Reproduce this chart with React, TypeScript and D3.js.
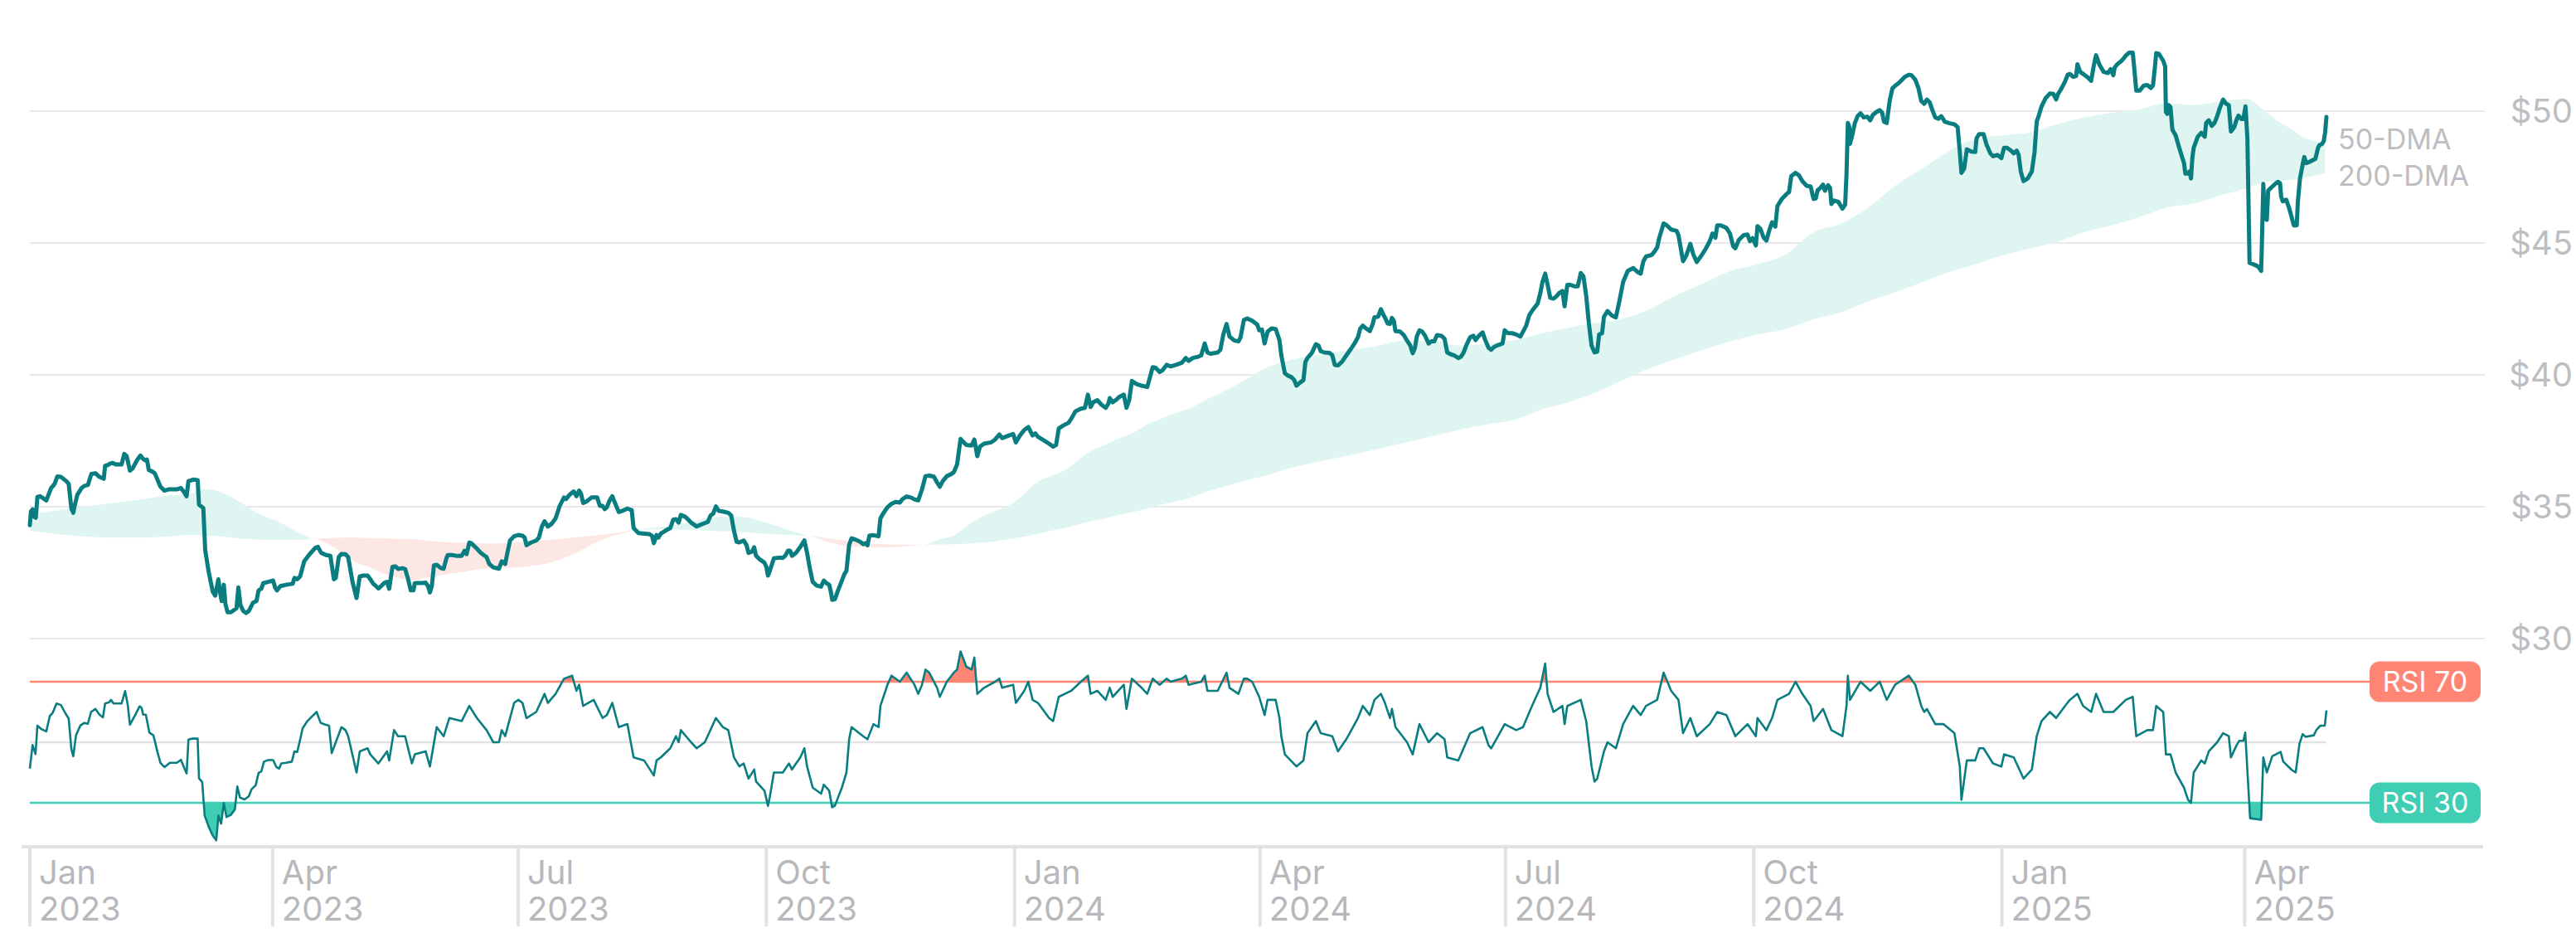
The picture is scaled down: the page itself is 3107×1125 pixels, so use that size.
import React from "react";
import * as d3 from "d3";

const W = 3107;
const H = 1125;

// day offsets since 2023-01-01 and closing prices
const priceDays = [
  0,0.4,1.0,1.7,2.2,2.8,3.8,6.1,7.9,8.6,9.2,10.2,11.5,13.5,14.4,15.4,16.1,16.6,17.6,19.2,20.2,21.5,22.8,24.3,25.8,27.4,27.9,28.9,29.7,30.7,32.0,34.0,35.0,35.9,37.1,38.1,39.7,41.0,42.0,42.8,43.4,44.1,45.3,46.3,48.4,49.9,51.4,54.5,56.0,57.1,58.1,58.8,60.7,62.2,62.7,64.3,65.0,66.3,67.8,68.7,69.9,70.4,71.1,71.9,72.5,73.3,74.5,76.6,77.3,78.1,79.1,80.1,81.2,82.7,84.0,84.8,85.8,86.5,88.3,90.2,90.9,91.6,92.9,95.0,97.4,98.1,99.1,100.2,101.7,103.7,105.8,106.8,108.0,109.8,111.4,112.7,113.4,114.5,115.5,117.0,118.0,119.6,121.1,121.6,122.3,123.7,125.2,126.2,127.3,128.3,129.2,130.4,131.4,132.4,133.2,134.4,135.5,136.5,138.1,139.1,140.1,141.2,142.2,142.7,143.7,145.7,
  146.7,147.6,148.3,149.0,149.8,150.8,152.4,153.4,154.4,154.9,156.5,158.0,160.1,161.1,161.9,162.9,163.6,165.7,167.2,169.3,170.3,171.8,173.9,174.9,176.2,177.0,178.0,179.5,181.1,182.6,183.4,184.1,185.7,187.7,188.7,189.8,190.8,192.0,193.4,194.9,196.4,198.0,198.8,200.0,201.6,202.6,203.6,204.3,205.1,206.2,208.2,210.3,211.3,212.3,213.1,213.9,214.9,215.9,216.9,218.3,219.5,221.5,223.1,223.8,225.6,227.7,229.7,230.6,231.3,232.3,233.0,233.9,235.9,237.4,238.5,239.5,240.5,241.3,243.1,245.1,247.2,248.7,250.2,251.3,252.3,253.3,254.3,255.4,256.9,258.9,260.0,261.0,262.0,263.0,264.6,265.6,266.4,267.7,268.5,269.2,270.7,272.3,273.0,273.6,274.3,275.8,277.9,279.1,280.0,281.0,281.8,282.5,284.0,285.6,287.1,
  288.1,289.2,290.2,291.7,293.3,294.3,295.3,296.3,296.9,297.4,298.4,299.4,301.0,302.0,302.7,303.7,304.6,306.1,307.8,308.9,309.7,310.5,311.2,312.7,314.6,315.3,316.3,317.9,319.4,320.9,322.5,323.5,325.0,326.6,327.9,329.3,330.7,332.0,333.4,335.1,336.3,337.3,338.4,339.9,341.4,342.5,343.7,345.0,345.7,347.1,349.1,350.1,351.2,352.2,353.7,356.3,357.8,359.4,360.4,362.9,364.5,365.5,367.0,368.6,370.1,371.7,372.7,373.7,376.3,377.8,379.3,380.4,381.4,382.9,385.0,386.0,387.6,389.6,391.1,392.2,393.2,394.2,395.7,397.3,398.8,399.8,400.3,401.4,402.9,403.9,405.5,406.5,407.5,408.5,410.1,412.1,414.2,415.2,416.2,417.3,418.8,419.8,421.4,422.9,424.9,427.0,428.5,
  429.5,431.1,433.1,434.2,435.5,436.5,437.7,440.3,441.3,442.4,443.6,444.7,446.5,448.0,448.8,450.0,451.3,453.1,455.0,455.7,456.7,457.7,458.8,460.3,461.8,463.2,463.9,465.2,466.2,467.7,468.7,469.5,471.0,472.1,472.8,473.6,475.2,476.7,477.7,478.5,479.8,481.8,482.8,483.7,484.9,486.4,488.0,490.0,491.2,492.3,493.1,494.1,495.3,496.7,497.7,498.4,499.8,500.8,501.8,502.3,503.3,504.2,504.9,505.6,506.2,507.9,509.3,510.5,511.7,512.6,513.4,514.1,515.1,516.1,517.2,518.5,519.5,520.6,521.6,523.3,524.4,525.4,526.9,527.9,529.5,530.5,531.5,532.5,533.9,535.1,535.9,537.1,538.5,539.4,540.7,541.7,542.8,544.3,545.9,546.7,547.9,549.4,551.0,552.5,553.5,554.6,555.8,556.8,557.6,558.9,559.9,560.7,561.7,562.6,563.6,564.8,565.8,566.9,568.1,568.9,569.9,
  570.8,572.5,573.8,574.9,575.9,576.9,577.9,578.9,580.0,581.0,581.7,582.8,583.5,584.8,586.3,587.9,589.2,590.6,592.3,594.3,596.1,597.1,598.1,599.1,601.2,602.2,603.2,604.0,605.6,606.8,608.4,610.4,611.1,612.8,614.0,615.5,616.6,617.9,619.6,621.2,622.7,623.7,624.8,625.5,626.8,628.9,630.2,631.4,632.2,633.5,635.3,636.7,637.6,638.6,639.8,640.4,641.5,642.7,643.7,644.8,645.8,647.0,647.8,649.4,651.4,652.1,652.9,654.5,655.8,657.0,658.6,660.1,661.2,662.0,662.7,663.7,664.7,665.4,666.6,667.3,667.8,668.8,670.4,671.9,672.9,673.4,673.9,674.4,674.7,675.5,676.5,677.5,678.6,679.8,681.1,682.2,683.2,684.5,685.7,686.6,687.3,688.3,689.4,690.4,691.4,692.8,693.8,695.0,696.5,697.5,698.9,700.1,701.1,702.2,703.2,704.2,705.3,706.3,707.5,708.5,709.3,709.8,711.3,
  713.4,714.6,715.4,716.0,717.0,718.0,719.6,721.1,721.6,722.6,724.2,725.2,726.7,727.7,729.3,730.8,731.8,732.9,734.4,735.4,736.5,737.2,738.0,739.0,740.6,742.1,743.1,743.9,744.6,745.7,747.2,748.8,750.1,751.1,751.8,752.8,754.4,755.4,756.2,757.4,758.5,759.0,760.0,761.1,762.6,764.1,765.1,765.9,767.2,768.7,770.3,771.3,772.3,772.8,773.8,775.4,776.9,778.2,779.5,780.0,780.8,782.1,783.6,784.9,786.2,787.0,787.7,788.2,789.2,790.8,791.5,791.8,792.3,792.8,793.5,794.2,795.4,796.9,798.5,799.0,800.0,800.5,801.1,801.6,802.1,803.6,804.9,806.2,806.7,807.7,808.8,809.8,810.8,811.8,813.0,814.1,815.1,815.9,817.1,817.9,818.7,819.8,820.5,821.3,822.0,822.8,824.0,825.6,826.3,827.1,827.3,827.9,828.4,829.2,829.7,830.7,832.3,833.3,834.1,834.5,835.1,836.4,837.4,838.4,839.2,840.3,840.7,841.5,842.6,843.1,843.8,845.1,847.2,848.2,848.7,849.7,850.3,850.8,851.3
];
const priceValues = [
  34.30,34.82,34.90,34.61,34.58,35.37,35.40,35.24,35.71,35.79,35.87,36.15,36.13,35.97,35.87,34.93,34.77,35.03,35.45,35.71,35.79,35.82,36.24,36.27,36.13,36.06,36.55,36.58,36.63,36.66,36.60,36.60,37.00,36.92,36.37,36.45,36.76,36.94,36.81,36.76,36.79,36.39,36.34,36.27,35.76,35.61,35.66,35.66,35.71,35.56,35.40,35.97,36.03,36.01,35.08,34.95,33.36,32.52,31.78,31.63,32.25,31.83,31.42,32.04,31.31,31.00,31.00,31.15,31.94,31.26,31.05,30.97,31.05,31.36,31.42,31.83,31.89,32.10,32.15,32.20,31.94,31.83,31.99,32.04,32.08,32.30,32.25,32.36,32.93,33.20,33.44,33.48,33.25,33.17,33.14,32.25,32.30,33.09,33.21,33.20,33.09,32.15,31.54,31.89,32.36,32.39,32.39,32.25,32.08,31.99,31.90,32.01,32.11,32.15,31.89,32.72,32.74,32.64,32.67,32.64,32.30,31.83,31.83,32.10,32.11,32.11,
  32.12,31.99,31.75,31.99,32.78,32.80,32.67,32.65,33.04,33.17,33.17,33.14,33.14,33.33,33.20,33.64,33.62,33.41,33.25,33.09,32.83,32.70,32.65,32.93,32.83,33.25,33.72,33.88,33.93,33.90,33.83,33.54,33.64,33.72,33.83,34.25,34.45,34.25,34.35,34.56,35.03,35.35,35.29,35.45,35.58,35.40,35.61,35.50,35.14,35.19,35.35,35.35,35.03,35.03,34.91,34.98,35.24,35.40,35.14,34.80,34.84,34.93,34.87,34.19,34.00,33.98,33.96,33.90,33.62,33.93,33.83,33.98,34.11,34.19,34.51,34.53,34.40,34.69,34.61,34.40,34.25,34.32,34.38,34.42,34.66,34.74,35.01,34.84,34.82,34.77,34.66,34.09,33.67,33.65,33.72,33.56,33.25,33.30,33.46,33.14,32.99,32.88,32.72,32.39,32.57,33.04,33.07,33.06,33.14,33.33,33.33,33.14,33.25,33.48,33.72,
  33.25,32.62,32.15,32.01,31.97,32.20,32.10,32.04,31.78,31.47,31.49,31.78,32.20,32.46,32.57,33.56,33.80,33.75,33.67,33.58,33.62,33.54,33.90,33.92,33.88,34.56,34.74,34.98,35.11,35.18,35.16,35.29,35.39,35.35,35.28,35.24,35.66,36.16,36.18,36.14,35.92,35.76,35.97,36.16,36.23,36.31,36.60,37.57,37.49,37.34,37.32,37.55,36.92,37.28,37.39,37.44,37.55,37.74,37.60,37.70,37.76,37.44,37.70,37.91,38.02,37.70,37.78,37.65,37.49,37.39,37.28,37.34,37.97,38.07,38.18,38.33,38.62,38.72,38.75,39.25,38.78,38.96,39.04,38.86,38.75,38.91,39.12,38.96,39.07,39.17,39.25,38.75,39.04,39.77,39.66,39.59,39.54,39.91,40.29,40.27,40.11,40.17,40.38,40.32,40.38,40.46,40.64,
  40.53,40.64,40.69,40.74,41.19,40.85,40.80,40.85,40.95,41.53,41.93,41.45,41.30,41.27,41.43,42.08,42.14,42.05,41.90,41.69,41.72,41.19,41.64,41.76,41.74,41.32,40.74,40.06,39.98,39.91,39.80,39.59,39.72,39.80,40.48,40.64,40.83,41.16,41.11,40.90,40.85,40.83,40.74,40.38,40.36,40.50,40.74,41.03,41.22,41.43,41.74,41.87,41.76,41.66,41.90,42.18,42.21,42.49,42.26,42.18,41.95,41.93,42.16,42.05,41.66,41.64,41.51,41.30,41.11,40.82,41.01,41.45,41.69,41.64,41.48,41.19,41.27,41.27,41.51,41.48,41.37,40.85,40.77,40.74,40.64,40.69,40.85,41.13,41.43,41.48,41.32,41.48,41.61,41.34,41.03,40.95,41.06,41.13,41.19,41.69,41.58,41.58,41.53,41.45,41.64,41.85,42.26,42.42,42.53,42.70,43.10,43.52,43.84,43.42,42.92,42.89,42.97,43.10,43.18,42.60,43.41,
  43.42,43.36,43.36,43.86,43.73,43.00,41.95,41.11,40.85,40.88,41.53,41.58,42.21,42.42,42.26,42.18,42.79,43.52,43.94,44.05,43.89,43.84,44.31,44.49,44.55,44.67,44.83,45.20,45.74,45.67,45.51,45.46,45.30,44.31,44.52,44.97,44.57,44.28,44.52,44.78,45.07,45.36,45.20,45.67,45.67,45.57,45.36,44.88,44.80,45.12,45.30,45.32,45.07,45.18,44.91,45.64,45.53,45.20,45.09,45.49,45.78,45.62,46.40,46.67,46.88,46.93,47.53,47.66,47.56,47.35,47.17,47.14,46.67,46.69,47.00,47.09,47.21,46.98,47.19,47.09,46.48,46.61,46.56,46.30,46.46,47.61,49.55,49.42,48.76,49.08,49.55,49.81,49.92,49.76,49.79,49.65,49.86,49.97,50.04,49.94,49.60,49.55,50.39,50.86,50.96,51.07,51.17,51.30,51.38,51.36,51.19,50.86,50.39,50.28,50.44,50.34,50.02,49.76,49.71,49.81,49.69,49.60,49.55,
  49.50,49.39,48.45,47.66,47.82,48.55,48.47,48.45,48.97,49.13,49.13,48.76,48.40,48.29,48.34,48.22,48.61,48.61,48.50,48.40,48.50,48.34,47.71,47.35,47.45,47.71,48.45,49.60,49.81,50.18,50.49,50.67,50.65,50.44,50.65,50.81,51.12,51.38,51.41,51.30,51.33,51.78,51.49,51.41,51.30,51.15,51.75,52.12,51.75,51.49,51.44,51.59,51.36,51.65,51.78,51.91,52.10,52.22,52.22,51.70,50.78,50.78,50.97,50.99,50.88,50.97,51.65,52.20,52.17,51.91,51.70,49.97,49.90,50.23,50.15,49.29,49.08,48.55,48.03,47.63,47.63,47.71,47.45,48.24,48.61,49.03,49.18,49.03,49.55,49.65,49.44,49.55,49.81,50.13,50.44,50.28,50.23,49.23,49.39,49.65,49.83,49.70,49.70,50.18,48.97,44.25,44.20,44.13,44.07,43.94,44.68,47.24,45.93,45.88,46.98,47.09,47.24,47.32,47.27,46.77,46.58,46.64,46.35,45.98,45.67,45.67,46.56,47.45,48.03,48.26,48.03,48.08,48.19,48.61,48.71,48.76,48.87,49.18,49.78
];

// moving averages (day offsets, 50-day, 200-day)
const dmaDays = [0.2,8.4,18.7,28.9,39.1,49.4,59.6,64.8,69.9,75.0,80.1,85.2,90.4,95.5,100.6,105.2,110.9,116.0,121.1,126.3,131.4,136.5,141.6,149.8,160.1,170.3,180.5,190.8,201.0,211.3,221.5,224.6,231.8,242.0,252.3,262.5,272.8,283.0,289.2,296.3,306.6,316.8,325.0,331.2,337.3,342.5,347.6,352.7,357.8,362.9,368.1,373.2,378.3,383.4,388.6,393.7,398.8,403.9,409.1,414.2,419.3,424.4,428.5,437.7,448.0,458.3,468.5,478.7,489.0,499.2,509.5,519.7,530.0,540.2,550.5,560.7,569.9,579.2,589.4,599.7,609.9,620.2,630.4,640.6,650.9,661.2,671.4,681.6,691.9,702.1,711.3,720.5,730.8,741.0,751.3,761.5,771.8,782.0,792.3,802.5,812.8,822.0,828.2,833.3,838.4,843.5,850.8];
const dma50 = [34.72,34.84,34.98,35.12,35.24,35.40,35.50,35.66,35.58,35.35,35.03,34.72,34.51,34.25,33.96,33.79,33.56,33.25,32.88,32.70,32.46,32.30,32.22,32.36,32.52,32.67,32.70,32.83,33.17,33.72,34.04,34.12,34.21,34.35,34.59,34.63,34.40,34.06,33.88,33.65,33.48,33.46,33.51,33.56,33.77,33.90,34.30,34.61,34.84,35.05,35.43,35.92,36.16,36.37,36.76,37.13,37.36,37.60,37.81,38.12,38.33,38.54,38.68,39.14,39.66,40.27,40.59,40.78,40.93,41.09,41.30,41.30,41.11,41.19,41.32,41.58,41.78,41.95,42.11,42.45,43.00,43.47,43.94,44.20,44.57,45.41,45.74,46.35,47.21,47.87,48.48,48.92,49.08,49.18,49.50,49.76,49.94,50.07,50.31,50.23,50.39,50.46,50.02,49.62,49.31,48.97,48.81];
const dma200 = [34.09,33.98,33.88,33.83,33.83,33.86,33.93,33.91,33.88,33.83,33.77,33.75,33.75,33.75,33.75,33.79,33.81,33.83,33.83,33.81,33.80,33.79,33.77,33.69,33.64,33.61,33.65,33.72,33.83,33.93,34.07,34.12,34.14,34.13,34.09,34.04,33.98,33.92,33.88,33.80,33.65,33.58,33.56,33.56,33.57,33.58,33.60,33.64,33.68,33.77,33.86,33.96,34.09,34.19,34.33,34.46,34.56,34.69,34.80,34.93,35.08,35.19,35.29,35.61,35.92,36.19,36.50,36.73,36.94,37.18,37.42,37.67,37.92,38.12,38.30,38.70,38.95,39.28,39.75,40.22,40.59,40.95,41.27,41.53,41.74,42.11,42.37,42.79,43.15,43.54,43.89,44.17,44.52,44.78,45.04,45.41,45.67,45.98,46.35,46.51,46.82,47.09,47.30,47.35,47.40,47.48,47.66];

// RSI (day offsets, value)
const rsiDays = [
  0,1.0,2.1,2.8,4.3,6.1,7.4,8.4,9.9,11.5,13.5,14.4,15.4,16.1,17.1,18.7,20.2,21.5,22.7,24.3,25.8,27.1,27.9,29.4,30.1,31.0,34.0,35.3,36.3,37.1,39.1,40.7,41.4,42.0,43.0,44.3,45.8,47.3,48.4,49.9,51.9,54.5,56.0,57.1,58.1,58.8,60.2,62.2,62.7,63.9,64.8,66.3,67.8,69.1,69.9,70.9,71.9,72.9,74.5,76.0,76.9,77.9,79.6,81.2,82.2,83.7,84.8,85.8,86.8,88.3,90.2,91.4,92.4,93.2,95.0,97.1,98.1,99.1,100.1,101.1,102.7,104.2,106.3,107.8,109.3,110.9,111.9,
  115.5,117.0,118.0,121.1,122.3,125.2,126.2,129.2,132.4,133.2,135.0,136.5,139.1,141.6,142.7,146.7,148.3,150.8,153.4,155.5,160.1,162.9,165.7,169.3,171.8,173.9,174.9,176.2,179.5,181.1,182.6,184.1,187.7,190.8,192.0,194.9,198.0,201.0,202.6,203.6,205.1,209.0,212.3,213.9,215.9,218.3,221.5,223.8,227.7,231.3,232.3,233.9,237.4,239.5,240.5,241.3,245.1,247.2,250.2,254.3,256.9,258.9,261.0,263.0,264.6,266.4,268.5,269.2,272.3,273.6,274.3,275.8,279.1,281.4,282.5,285.6,287.1,288.1,290.2,293.3,294.3,296.3,297.4,298.4,301.0,302.7,303.7,304.6,308.9,310.5,312.7,314.6,315.3,317.9,319.4,322.5,325.0,327.9,329.3,330.7,332.0,333.4,336.3,337.3,339.9,342.5,343.7,345.0,347.1,349.1,350.1,351.2,353.7,357.8,359.4,360.4,364.5,365.5,368.6,370.1,371.7,373.7,377.8,379.3,381.4,386.0,389.6,392.2,393.2,395.7,398.8,400.3,401.4,405.5,406.5,408.5,412.1,414.2,416.2,418.8,421.4,422.9,427.0,428.5,429.5,434.2,435.5,436.5,440.3,443.6,444.7,448.0,450.0,451.3,453.1,455.7,457.7,458.8,461.8,463.2,463.9,465.2,469.5,472.1,473.6,476.7,478.5,482.8,484.9,488.0,492.3,494.1,496.7,498.4,500.8,502.3,504.2,504.9,506.2,510.5,512.6,515.1,518.5,521.6,524.4,525.4,529.5,533.9,538.5,540.7,541.7,546.7,551.0,553.5,556.8,559.9,561.7,562.6,564.8,568.1,568.9,569.9,574.9,576.9,578.9,580.0,581.0,583.5,584.8,587.9,590.6,594.3,597.1,599.1,603.2,605.6,608.4,611.1,612.8,615.5,617.9,622.7,625.5,628.9,632.2,636.7,639.8,640.4,643.7,645.8,647.8,652.1,654.5,657.0,660.1,661.2,664.7,667.8,671.9,673.4,673.9,674.7,678.6,682.2,685.7,688.3,691.4,696.5,698.9,701.1,702.2,703.2,706.3,709.3,713.4,715.4,716.0,718.0,721.1,722.6,724.2,727.7,730.8,731.8,735.4,738.0,739.0,742.1,743.9,745.7,748.8,751.1,754.4,756.2,759.0,761.1,764.1,765.9,768.7,772.3,776.9,779.5,780.8,784.9,787.0,788.2,790.8,791.8,793.5,795.4,798.5,800.0,801.1,802.1,804.9,806.2,807.7,810.8,813.0,815.1,815.9,818.0,
  819.0,820.5,821.2,823.0,827.1,827.9,829.2,831.2,834.3,835.3,838.4,839.9,841.3,842.5,843.5,846.6,847.6,849.1,850.7,851.3
];
const rsiValues = [
  41.3,49.1,46.1,55.5,54.3,53.6,58.7,59.6,62.8,62.3,59.1,57.8,47.7,45.4,52.3,55.5,56.4,56.1,60.0,61.0,59.1,58.2,62.8,63.2,64.0,62.8,62.8,66.9,62.3,55.8,59.1,61.9,61.4,59.1,59.1,53.2,52.3,46.8,43.2,41.8,43.2,43.2,44.2,41.8,39.7,50.9,51.2,51.2,38.1,36.8,25.8,22.1,19.2,17.6,25.8,23.1,29.9,25.3,26.0,27.8,35.4,31.7,31.1,32.2,34.5,35.8,39.9,40.4,43.6,44.1,44.1,41.8,41.3,43.0,43.2,43.6,47.0,46.8,50.5,54.6,56.8,58.2,60.0,56.4,55.9,55.5,46.4,
  55,54,52,40,47,48,46,43,47,44,54,52,52,43,46,47,42,55,52,58,57,62,58,54,50,50,54,52,63,64,63,58,60,66,63,66,71,72,67,69,62,64,58,59,63,55,56,45,44,39,44,45,48,52,50,54,50,48,50,58,55,54,45,42,43,38,41,37,34,29,32,40,40,43,41,45,48,42,35,33,36,34,28.5,29,35,40,51,55,52,51,56,55,62,69,72,70,73,69,66,69,74,73,68,65,70,73,74,80,75,74,78,66,68,70,71,68,69,63,67,70,64,63,58,57,65,67,70,72,66,67,64,68,65,69,61,71,68,66,71,69,71,70,71,72,69,70,72,67,67,73,68,66,71,71,70,65,59,64,64,58,52,46,42,44,53,57,53,52,47,51,58,62,59,64,66,63,58,61,55,50,46,56,50,53,51,45,44,53,55,49,48,56,54,55,62,68,76,66,60,62,56,62,64,57,42,37,38,47,50,48,56,62,59,62,64,73,67,64,53,58,52,56,60,59,52,56,52,58,54,58,64,66,70,66,62,57,61,54,52,62,72,64,70,67,70,64,69,72,69,62,60,61,56,56,53,42,31,44,44,48,48,43,42,46,45,40,38,41,52,57,60,58,62,64,66,62,60,66,60,60,64,65,52,54,54,62,60,46,46,40,35,31,30,40,44,43,47,50,53,52,45,49,
  50.5,50.5,53.2,24.9,24.4,45.0,40.0,45.4,46.8,43.6,40.9,40.0,49.5,52.7,51.8,52.3,54.1,55.5,55.5,60.5
];

const priceTicks = [30, 35, 40, 45, 50];
const rsiBands = [
  { level: 70, label: "RSI 70", color: "#ff8675" },
  { level: 30, label: "RSI 30", color: "#3fcdb3" },
];

const START = Date.UTC(2023, 0, 1);
const toDate = (d: number) => new Date(START + d * 86400000);

export default function App() {
  const x = d3.scaleUtc().domain([toDate(0), new Date(Date.UTC(2025, 5, 29))]).range([36, 2997]);
  const y = d3.scaleLinear().domain([30, 50]).range([770, 134]);
  const yr = d3.scaleLinear().domain([30, 70]).range([968, 822]);

  const price = priceDays.map((d, i) => ({ t: toDate(d), v: priceValues[i] }));
  const dma = dmaDays.map((d, i) => ({ t: toDate(d), a: dma50[i], b: dma200[i] }));
  const n = Math.min(rsiDays.length, rsiValues.length);
  const rsi = rsiDays.slice(0, n).map((d, i) => ({ t: toDate(d), v: rsiValues[i] }));

  const line = d3.line<{ t: Date; v: number }>().x((d) => x(d.t)).y((d) => y(d.v));
  const rsiLine = d3.line<{ t: Date; v: number }>().x((d) => x(d.t)).y((d) => yr(d.v));
  const tealBand = d3.area<any>().curve(d3.curveMonotoneX).x((d) => x(d.t)).y0((d) => y(d.b)).y1((d) => y(Math.max(d.a, d.b)));
  const redBand = d3.area<any>().curve(d3.curveMonotoneX).x((d) => x(d.t)).y0((d) => y(d.b)).y1((d) => y(Math.min(d.a, d.b)));
  const rsiHi = d3.area<any>().x((d) => x(d.t)).y0(yr(70)).y1((d) => yr(d.v));
  const rsiLo = d3.area<any>().x((d) => x(d.t)).y0(yr(30)).y1((d) => yr(d.v));

  const ticks = d3.utcMonth.every(3)!.range(toDate(0), toDate(850));
  const lastX = x(price[price.length - 1].t);
  const last = dma[dma.length - 1];
  let ya = y(last.a), yb = y(last.b);
  const mid = (ya + yb) / 2;
  if (yb - ya < 44) { ya = mid - 22; yb = mid + 22; }

  const font = "Inter, 'Noto Sans', sans-serif";
  const axisColor = "#e2e2e4";

  return (
    <svg width={W} height={H} style={{ position: "absolute", left: 0, top: 0, background: "#fff" }} fontFamily={font}>
      <defs>
        <clipPath id="above70"><rect x={0} y={0} width={W} height={yr(70)} /></clipPath>
        <clipPath id="below30"><rect x={0} y={yr(30)} width={W} height={H - yr(30)} /></clipPath>
      </defs>
      {priceTicks.map((t) => (
        <g key={t}>
          <line x1={36} x2={2997} y1={y(t)} y2={y(t)} stroke="#e8e8ea" strokeWidth={2} />
          <text x={3103} y={y(t)} dy="0.36em" textAnchor="end" fontSize={40} fill="#bdbdc2">${t}</text>
        </g>
      ))}
      <path d={tealBand(dma) || ""} fill="#dff5f1" />
      <path d={redBand(dma) || ""} fill="#fde7e5" />
      <path d={line(price) || ""} fill="none" stroke="#0a7d80" strokeWidth={5} strokeLinejoin="round" strokeLinecap="round" />
      <text x={2820} y={ya} dy="0.36em" fontSize={34} fill="#bdbdc2">50-DMA</text>
      <text x={2820} y={yb} dy="0.36em" fontSize={34} fill="#bdbdc2">200-DMA</text>

      <line x1={36} x2={lastX} y1={yr(50)} y2={yr(50)} stroke="#e3e3e5" strokeWidth={2.5} />
      {rsiBands.map((b) => (
        <line key={b.level} x1={36} x2={2858} y1={yr(b.level)} y2={yr(b.level)} stroke={b.color} strokeWidth={2.5} />
      ))}
      <path d={rsiHi(rsi) || ""} fill="#ff8675" clipPath="url(#above70)" />
      <path d={rsiLo(rsi) || ""} fill="#3fcdb3" clipPath="url(#below30)" />
      <path d={rsiLine(rsi) || ""} fill="none" stroke="#0a7d80" strokeWidth={2.6} strokeLinejoin="round" />
      {rsiBands.map((b) => (
        <g key={"l" + b.level}>
          <rect x={2858} y={yr(b.level) - 24.5} width={134} height={49} rx={12} fill={b.color} />
          <text x={2925} y={yr(b.level)} dy="0.36em" textAnchor="middle" fontSize={34} fill="#fff">{b.label}</text>
        </g>
      ))}

      <line x1={26} x2={2995} y1={1021} y2={1021} stroke={axisColor} strokeWidth={4} />
      {ticks.map((t) => (
        <g key={+t}>
          <line x1={x(t)} x2={x(t)} y1={1019} y2={1117} stroke={axisColor} strokeWidth={4} />
          <text x={x(t) + 11} y={1066} fontSize={40} fill="#b7b7bc">{d3.utcFormat("%b")(t)}</text>
          <text x={x(t) + 11} y={1110} fontSize={40} fill="#b7b7bc">{d3.utcFormat("%Y")(t)}</text>
        </g>
      ))}
    </svg>
  );
}
